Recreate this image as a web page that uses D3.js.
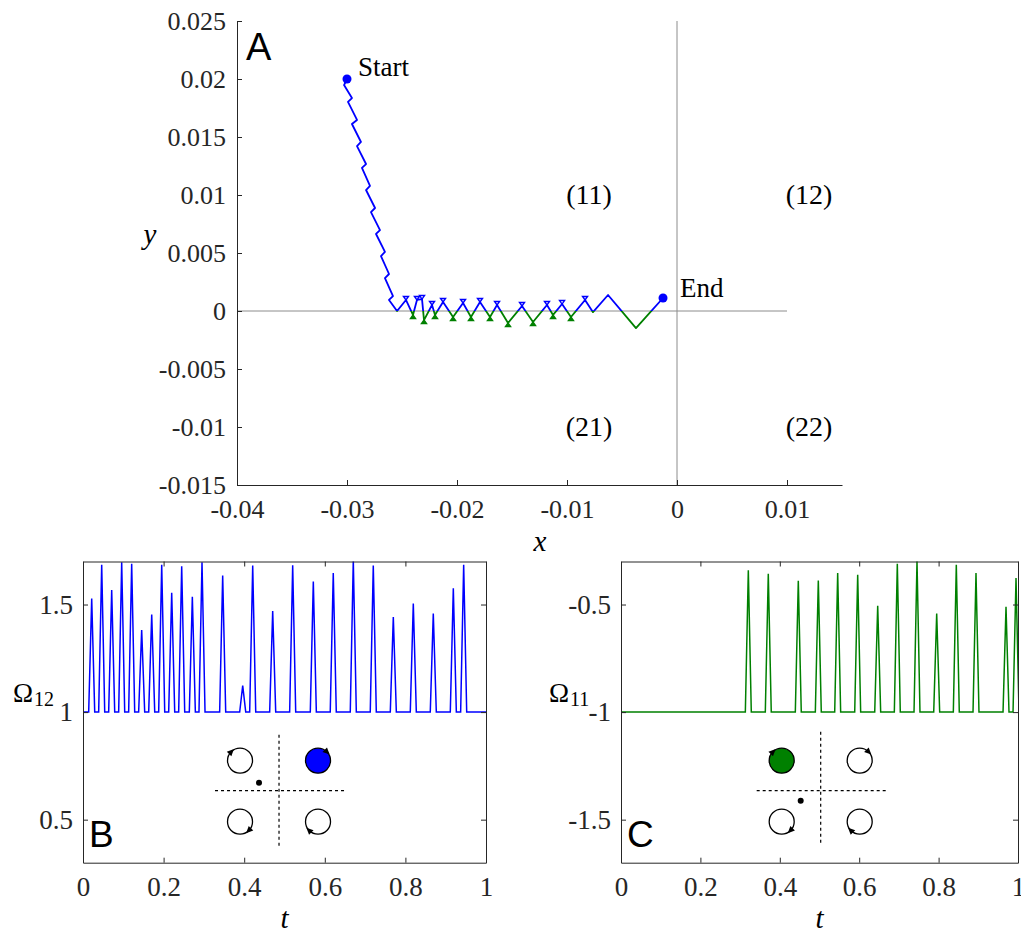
<!DOCTYPE html>
<html>
<head>
<meta charset="utf-8">
<script src="https://cdn.jsdelivr.net/npm/d3@7"></script>
<style>
  body { margin: 0; background: #fff; }
  svg { display: block; }
  .tick text { font-family: "Liberation Serif", serif; font-size: 26px; fill: #262626; }
  .spike .tick text { font-size: 27px; }
  .tick line, .domain { stroke: #262626; }
</style>
</head>
<body>
<svg id="canvas"></svg>
<script>
// ---- panel A: trajectory (x, y) ----
const trajX = [
  -0.0300, -0.03027, -0.02955, -0.02991, -0.02909, -0.02955, -0.02873, -0.02909,
  -0.02827, -0.02864, -0.02791, -0.02827, -0.02745, -0.02782, -0.0270, -0.02736,
  -0.02655, -0.02691, -0.02618, -0.02655, -0.02582, -0.02618, -0.02545,
  -0.02464, -0.0240, -0.02364, -0.02318, -0.0230, -0.02227, -0.0220, -0.02127,
  -0.02036, -0.01945, -0.01873, -0.01791, -0.0170, -0.01636, -0.01536, -0.01409,
  -0.01309, -0.01182, -0.01127, -0.01045, -0.00964, -0.00836, -0.00764, -0.00627,
  -0.00373, -0.00127
];
const trajY = [
  0.0200, 0.01948, 0.01836, 0.01802, 0.01647, 0.01612, 0.01457, 0.01422,
  0.01267, 0.01233, 0.01078, 0.01043, 0.00888, 0.00853, 0.00698, 0.00664,
  0.00509, 0.00474, 0.00319, 0.00284, 0.00129, 0.00095, 0.0,
  0.00095, -0.00034, 0.00095, 0.00103, -0.00078, 0.00052, -0.00034, 0.00078,
  -0.00052, 0.00069, -0.00052, 0.00078, -0.00052, 0.00052, -0.00103, 0.00043,
  -0.00095, 0.00052, -0.00034, 0.0006, -0.00052, 0.00095, -0.0001, 0.00138,
  -0.00147, 0.00112
];
const xTicksA = [-0.04, -0.03, -0.02, -0.01, 0, 0.01];
const yTicksA = [-0.015, -0.01, -0.005, 0, 0.005, 0.01, 0.015, 0.02, 0.025];
const regionLabels = ['(11)', '(12)', '(21)', '(22)'];
const regionX = [-0.008, 0.012, -0.008, 0.012];
const regionY = [0.01, 0.01, -0.01, -0.01];

// ---- panel B: Omega_12 spikes ----
const spikeT12 = [0.0216, 0.0464, 0.0712, 0.096, 0.1208, 0.1456, 0.1705, 0.1953, 0.2201,
  0.2449, 0.2713, 0.2953, 0.3466, 0.3963, 0.4211, 0.4707, 0.5203, 0.5715, 0.621, 0.6707,
  0.7203, 0.77, 0.8196, 0.8692, 0.9189, 0.9446];
const spikeV12 = [1.528, 1.685, 1.567, 1.697, 1.689, 1.382, 1.453, 1.685, 1.555,
  1.678, 1.536, 1.697, 1.635, 1.123, 1.681, 1.470, 1.682, 1.607, 1.646, 1.706,
  1.681, 1.442, 1.505, 1.458, 1.575, 1.685];
const base12 = 1;
const yTicksB = [0.5, 1, 1.5];

// ---- panel C: Omega_11 spikes ----
const spikeT11 = [0.3207, 0.371, 0.4466, 0.497, 0.5458, 0.5962, 0.6466, 0.696, 0.7456,
  0.7952, 0.8446, 0.8942, 0.9698, 0.995];
const spikeV11 = [-0.341, -0.357, -0.390, -0.388, -0.354, -0.362, -0.506, -0.310, -0.298,
  -0.542, -0.315, -0.354, -0.511, -0.377];
const base11 = -1;
const yTicksC = [-1.5, -1, -0.5];
const tTicks = [0, 0.2, 0.4, 0.6, 0.8, 1];

const spikeHalf = 0.0075;
const blue = '#0000ff';
const green = '#008000';
const ink = '#262626';
const serif = '"Liberation Serif", serif';
const sans = '"Liberation Sans", Arial, sans-serif';

const width = 1021;
const height = 933;
const svg = d3.select('#canvas').attr('width', width).attr('height', height);
svg.append('rect').attr('width', width).attr('height', height).attr('fill', '#fff');
const defs = svg.append('defs');

const fmt = (v) => String(+v.toFixed(4));

// ================= panel A =================
const xA = d3.scaleLinear().domain([-0.04, 0.015]).range([237, 842]);
const yA = d3.scaleLinear().domain([-0.015, 0.025]).range([485, 21]);

const gA = svg.append('g');

// quadrant guide lines
gA.append('line')
  .attr('x1', xA(0)).attr('x2', xA(0)).attr('y1', yA(0.025)).attr('y2', yA(-0.015))
  .attr('stroke', '#8c8c8c').attr('stroke-width', 1);
gA.append('line')
  .attr('x1', xA(-0.04)).attr('x2', xA(0.01)).attr('y1', yA(0)).attr('y2', yA(0))
  .attr('stroke', '#8c8c8c').attr('stroke-width', 1);

gA.append('g')
  .attr('transform', `translate(0,${yA(-0.015)})`)
  .call(d3.axisBottom(xA).tickValues(xTicksA).tickFormat(fmt).tickSize(-5).tickSizeOuter(0).tickPadding(15));
gA.append('g')
  .attr('transform', `translate(${xA(-0.04)},0)`)
  .call(d3.axisLeft(yA).tickValues(yTicksA).tickFormat(fmt).tickSize(-5).tickSizeOuter(0).tickPadding(11));

// trajectory, blue above y=0 and green below
defs.append('clipPath').attr('id', 'clipUp').append('rect')
  .attr('x', 0).attr('y', 0).attr('width', width).attr('height', yA(0));
defs.append('clipPath').attr('id', 'clipDown').append('rect')
  .attr('x', 0).attr('y', yA(0)).attr('width', width).attr('height', height);

const traj = trajX.map((x, i) => [x, trajY[i]]);
const trajLine = d3.line().x((d) => xA(d[0])).y((d) => yA(d[1]));
gA.append('path').attr('d', trajLine(traj)).attr('fill', 'none')
  .attr('stroke', blue).attr('stroke-width', 1.8).attr('stroke-linejoin', 'round')
  .attr('clip-path', 'url(#clipUp)');
gA.append('path').attr('d', trajLine(traj)).attr('fill', 'none')
  .attr('stroke', green).attr('stroke-width', 1.8).attr('stroke-linejoin', 'round')
  .attr('clip-path', 'url(#clipDown)');

// small markers at the bounces
const bounces = traj.filter((d) => d[0] > -0.025 && d[0] < -0.008 && Math.abs(d[1]) > 0.0002);
gA.selectAll('path.mark')
  .data(bounces)
  .enter()
  .append('path')
  .attr('class', 'mark')
  .attr('d', (d) => {
    const px = xA(d[0]);
    const py = yA(d[1]);
    return d[1] > 0
      ? `M${px - 2.5},${py - 3.5}L${px + 2.5},${py - 3.5}L${px},${py}Z`
      : `M${px - 2.5},${py + 3.5}L${px + 2.5},${py + 3.5}L${px},${py}Z`;
  })
  .attr('fill', (d) => (d[1] > 0 ? 'none' : green))
  .attr('stroke', (d) => (d[1] > 0 ? blue : green))
  .attr('stroke-width', 1.4);

// start / end dots
const startPt = traj[0];
const endPt = traj[traj.length - 1];
gA.append('circle').attr('cx', xA(startPt[0])).attr('cy', yA(startPt[1])).attr('r', 4.5).attr('fill', blue);
gA.append('circle').attr('cx', xA(endPt[0])).attr('cy', yA(endPt[1])).attr('r', 4.5).attr('fill', blue);
gA.append('text').text('Start')
  .attr('x', xA(startPt[0]) + 11).attr('y', yA(startPt[1]) - 3)
  .attr('font-family', serif).attr('font-size', 27).attr('fill', '#000');
gA.append('text').text('End')
  .attr('x', xA(endPt[0]) + 17).attr('y', yA(endPt[1]) - 1)
  .attr('font-family', serif).attr('font-size', 27).attr('fill', '#000');

gA.selectAll('text.region')
  .data(regionLabels)
  .enter()
  .append('text')
  .attr('class', 'region')
  .text((d) => d)
  .attr('x', (d, i) => xA(regionX[i]))
  .attr('y', (d, i) => yA(regionY[i]) + 9)
  .attr('text-anchor', 'middle')
  .attr('font-family', serif).attr('font-size', 28).attr('fill', '#000');

gA.append('text').text('A').attr('x', 246).attr('y', 60)
  .attr('font-family', sans).attr('font-size', 38).attr('fill', '#000');
gA.append('text').text('y').attr('x', 150).attr('y', 244).attr('text-anchor', 'middle')
  .attr('font-family', serif).attr('font-style', 'italic').attr('font-size', 29).attr('fill', '#000');
gA.append('text').text('x').attr('x', 540).attr('y', 551).attr('text-anchor', 'middle')
  .attr('font-family', serif).attr('font-style', 'italic').attr('font-size', 29).attr('fill', '#000');

// ================= panels B, C =================
const drawSpikePanel = (cfg) => {
  const x = d3.scaleLinear().domain([0, 1]).range(cfg.xr);
  const y = d3.scaleLinear().domain(cfg.yd).range([862.7, 561.5]);
  const g = svg.append('g').attr('class', 'spike');

  const pts = [[0, cfg.base]];
  cfg.spikeT.forEach((t, i) => {
    pts.push([t - spikeHalf, cfg.base], [t, cfg.spikeV[i]], [t + spikeHalf, cfg.base]);
  });
  pts.push([1, cfg.base]);

  defs.append('clipPath').attr('id', cfg.id).append('rect')
    .attr('x', cfg.xr[0]).attr('y', 561.5)
    .attr('width', cfg.xr[1] - cfg.xr[0]).attr('height', 862.7 - 561.5);

  g.append('path')
    .attr('d', d3.line().x((d) => x(d[0])).y((d) => y(d[1]))(pts))
    .attr('fill', 'none').attr('stroke', cfg.color).attr('stroke-width', 1.5)
    .attr('clip-path', `url(#${cfg.id})`);

  // box with inward ticks on all sides
  g.append('g').attr('transform', `translate(0,${y.range()[0]})`)
    .call(d3.axisBottom(x).tickValues(tTicks).tickFormat(fmt).tickSize(-5).tickSizeOuter(0).tickPadding(14.5));
  g.append('g').attr('transform', `translate(0,${y.range()[1]})`)
    .call(d3.axisTop(x).tickValues(tTicks).tickFormat('').tickSize(-5).tickSizeOuter(0));
  g.append('g').attr('transform', `translate(${cfg.xr[0]},0)`)
    .call(d3.axisLeft(y).tickValues(cfg.yTicks).tickFormat(fmt).tickSize(-5).tickSizeOuter(0).tickPadding(10));
  g.append('g').attr('transform', `translate(${cfg.xr[1]},0)`)
    .call(d3.axisRight(y).tickValues(cfg.yTicks).tickFormat('').tickSize(-5).tickSizeOuter(0));

  // Omega label
  const lab = g.append('text').attr('x', cfg.labX).attr('y', 702)
    .attr('font-family', serif).attr('fill', '#000');
  lab.append('tspan').text('\u03A9').attr('font-size', 27);
  lab.append('tspan').text(cfg.sub).attr('font-size', 20).attr('dx', 1).attr('dy', 4);

  g.append('text').text('t').attr('x', (cfg.xr[0] + cfg.xr[1]) / 2).attr('y', 928)
    .attr('text-anchor', 'middle').attr('font-family', serif).attr('font-style', 'italic')
    .attr('font-size', 29).attr('fill', '#000');
  g.append('text').text(cfg.letter).attr('x', cfg.xr[0] + 6).attr('y', 847)
    .attr('font-family', sans).attr('font-size', 37).attr('fill', '#000');

  // schematic inset: four vortices, one filled, passive particle
  const cx = x(cfg.inset.t);
  const cy = y(cfg.inset.v);
  const ins = g.append('g').attr('transform', `translate(${cx},${cy})`);
  ins.append('line').attr('x1', 0).attr('x2', 0).attr('y1', cfg.inset.vTop).attr('y2', cfg.inset.vBot)
    .attr('stroke', '#000').attr('stroke-width', 1.2).attr('stroke-dasharray', '3,3');
  ins.append('line').attr('x1', -64).attr('x2', 65).attr('y1', 0).attr('y2', 0)
    .attr('stroke', '#000').attr('stroke-width', 1.2).attr('stroke-dasharray', '3,3');
  const cpos = [[-39, -30], [39, -30], [-39, 31], [39, 31]];
  const arrowAng = [-135, -45, 45, 135];
  cpos.forEach((p, i) => {
    ins.append('circle').attr('cx', p[0]).attr('cy', p[1]).attr('r', 12.5)
      .attr('fill', i === cfg.filled ? cfg.color : '#fff')
      .attr('stroke', '#000').attr('stroke-width', 1.3);
    const a = (arrowAng[i] * Math.PI) / 180;
    const ax = p[0] + 12.5 * Math.cos(a);
    const ay = p[1] + 12.5 * Math.sin(a);
    const deg = arrowAng[i] + 90; // clockwise tangent
    ins.append('path').attr('d', 'M4,0L-3,-3.2L-3,3.2Z')
      .attr('transform', `translate(${ax},${ay}) rotate(${deg})`).attr('fill', '#000');
  });
  ins.append('circle').attr('cx', cfg.inset.dot[0]).attr('cy', cfg.inset.dot[1]).attr('r', 3).attr('fill', '#000');
};

drawSpikePanel({
  id: 'clipB', xr: [83, 486], yd: [0.3, 1.7], base: base12,
  spikeT: spikeT12, spikeV: spikeV12, color: blue, yTicks: yTicksB,
  labX: 13, sub: '12', letter: 'B', filled: 1,
  inset: { t: 0.4864, v: 0.635, vTop: -56, vBot: 57, dot: [-20, -8] }
});
drawSpikePanel({
  id: 'clipC', xr: [621, 1018], yd: [-1.7, -0.3], base: base11,
  spikeT: spikeT11, spikeV: spikeV11, color: green, yTicks: yTicksC,
  labX: 549, sub: '11', letter: 'C', filled: 0,
  inset: { t: 0.503, v: -1.365, vTop: -59, vBot: 54, dot: [-20, 10] }
});

svg.selectAll('.domain').attr('stroke', ink).attr('stroke-width', 1);
svg.selectAll('.tick line').attr('stroke', ink);
</script>
</body>
</html>
